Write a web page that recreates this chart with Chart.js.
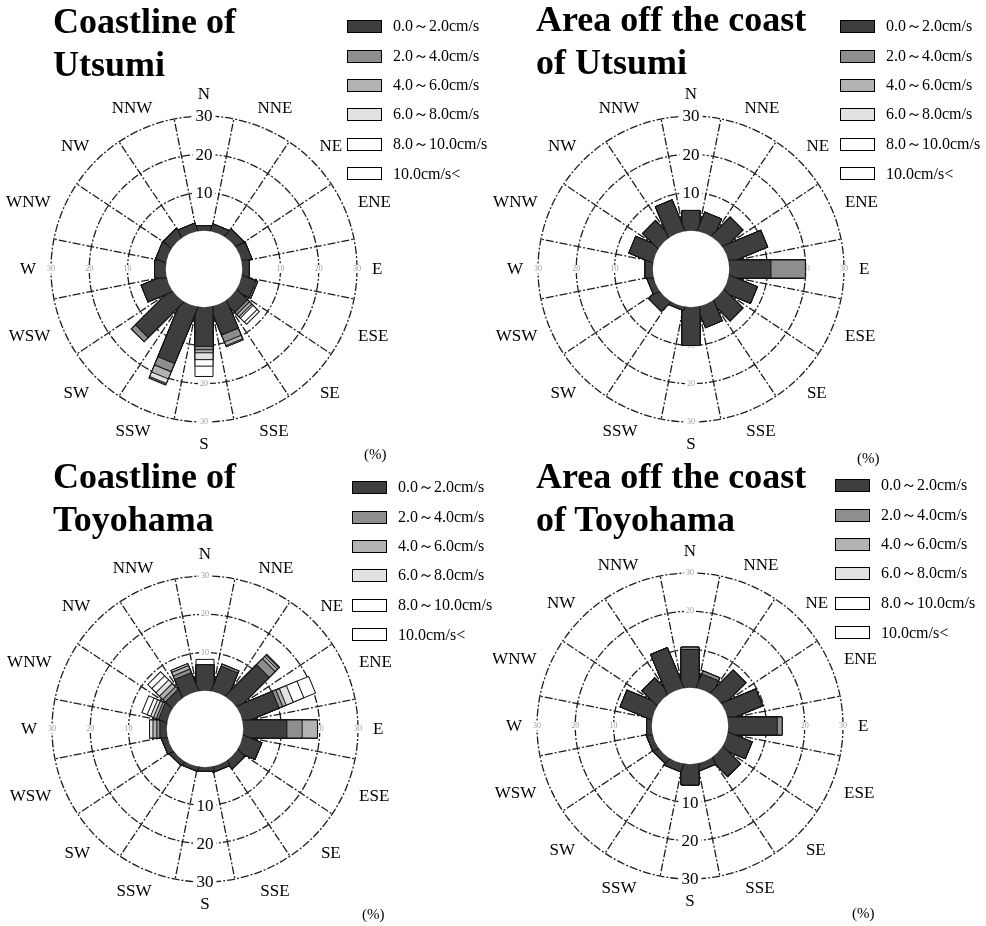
<!DOCTYPE html>
<html>
<head>
<meta charset="utf-8">
<script src="https://cdn.jsdelivr.net/npm/chart.js@4.4.1/dist/chart.umd.min.js"></script>
<style>
  body { margin: 0; width: 986px; height: 926px; background: #fff; overflow: hidden;
         font-family: "Liberation Serif", "Times New Roman", serif; color: #000; }
  .panel { position: absolute; width: 493px; height: 463px; }
  .panel canvas { position: absolute; left: 0; top: 0; }
  .title { position: absolute; font-weight: bold; font-size: 36px; line-height: 43px; white-space: nowrap; }
  .legend { position: absolute; font-size: 16px; }
  .legend .row { height: 29.4px; display: flex; align-items: center; white-space: nowrap; }
  .legend .box { width: 33px; height: 11px; border: 1px solid #000; margin-right: 11px; }
  .unit { position: absolute; font-size: 15px; }
</style>
</head>
<body>

<div class="panel" style="left:0;top:0">
  <canvas id="c1" width="493" height="463"></canvas>
  <div class="title" style="left:53px;top:0px">Coastline of<br>Utsumi</div>
  <div class="legend" id="lg1" style="left:347px;top:12px"></div>
  <div class="unit" style="left:364px;top:446px">(%)</div>
</div>
<div class="panel" style="left:493px;top:0">
  <canvas id="c2" width="493" height="463"></canvas>
  <div class="title" style="left:43px;top:-2px">Area off the coast<br>of Utsumi</div>
  <div class="legend" id="lg2" style="left:347px;top:12px"></div>
  <div class="unit" style="left:364px;top:450px">(%)</div>
</div>
<div class="panel" style="left:0;top:463px">
  <canvas id="c3" width="493" height="463"></canvas>
  <div class="title" style="left:53px;top:-8px">Coastline of<br>Toyohama</div>
  <div class="legend" id="lg3" style="left:352px;top:10px"></div>
  <div class="unit" style="left:362px;top:443px">(%)</div>
</div>
<div class="panel" style="left:493px;top:463px">
  <canvas id="c4" width="493" height="463"></canvas>
  <div class="title" style="left:43px;top:-8px">Area off the coast<br>of Toyohama</div>
  <div class="legend" id="lg4" style="left:342px;top:8px"></div>
  <div class="unit" style="left:359px;top:442px">(%)</div>
</div>

<script>
// wind-rose style current frequency (%), 16 directions
const directions = ['N', 'NNE', 'NE', 'ENE', 'E', 'ESE', 'SE', 'SSE', 'S', 'SSW', 'SW', 'WSW', 'W', 'WNW', 'NW', 'NNW'];
const speedClasses = ['0.0～2.0cm/s', '2.0～4.0cm/s', '4.0～6.0cm/s', '6.0～8.0cm/s', '8.0～10.0cm/s', '10.0cm/s<'];
const ringValues = [10, 20, 30];

// one row per speed class, one column per direction
const coastUtsumi = [
  [1.3, 1.8, 2.4, 2.6, 1.8, 3.8, 3.7, 7.7, 10.2, 15.8, 13.0, 6.8, 2.9, 2.7, 2.6, 2.0],
  [0, 0, 0, 0, 0, 0.4, 0.8, 2.0, 0.9, 2.3, 1.5, 0, 0, 0, 0, 0],
  [0, 0, 0, 0, 0, 0, 0.8, 1.0, 0.8, 2.0, 0, 0, 0, 0, 0, 0],
  [0, 0, 0, 0, 0, 0, 0.5, 0.3, 1.8, 1.3, 0, 0, 0, 0, 0, 0],
  [0, 0, 0, 0, 0, 0, 1.5, 0, 1.7, 0.3, 0, 0, 0, 0, 0, 0],
  [0, 0, 0, 0, 0, 0, 0.8, 0, 2.7, 0.2, 0, 0, 0, 0, 0, 0]
];
const offUtsumi = [
  [5.3, 5.1, 6.8, 10.7, 10.9, 7.8, 6.8, 5.6, 10.0, 0.8, 3.3, 1.6, 2.0, 6.6, 5.5, 8.6],
  [0, 0, 0, 0, 9.0, 0, 0, 0, 0, 0, 0, 0, 0, 0, 0, 0],
  [0, 0, 0, 0, 0, 0, 0, 0, 0, 0, 0, 0, 0, 0, 0, 0],
  [0, 0, 0, 0, 0, 0, 0, 0, 0, 0, 0, 0, 0, 0, 0, 0],
  [0, 0, 0, 0, 0, 0, 0, 0, 0, 0, 0, 0, 0, 0, 0, 0],
  [0, 0, 0, 0, 0, 0, 0, 0, 0, 0, 0, 0, 0, 0, 0, 0]
];
const coastToyohama = [
  [6.8, 6.8, 11.4, 10.0, 11.4, 5.1, 2.4, 1.3, 1.0, 1.0, 1.2, 1.5, 1.8, 2.2, 2.3, 5.0],
  [0, 0.6, 2.2, 1.0, 4.0, 0, 0, 0, 0, 0, 0, 0, 0.8, 0.6, 1.0, 1.0],
  [0, 0, 0.8, 1.0, 4.0, 0, 0, 0, 0, 0, 0, 0, 1.0, 0.8, 1.2, 1.0],
  [0, 0, 0.5, 2.0, 0, 0, 0, 0, 0, 0, 0, 0, 0.9, 0.8, 1.3, 0.5],
  [0, 0, 0.3, 3.0, 0, 0, 0, 0, 0, 0, 0, 0, 0, 1.0, 1.5, 0],
  [1.4, 0, 0, 3.3, 0, 0, 0, 0, 0, 0, 0, 0, 0, 1.5, 1.5, 0]
];
const offToyohama = [
  [10.0, 3.8, 8.3, 9.6, 12.8, 6.6, 6.3, 1.8, 5.4, 2.0, 1.5, 1.5, 1.3, 8.8, 5.4, 11.2],
  [0.6, 0.8, 0, 0, 1.3, 0, 0, 0, 0, 0, 0, 0, 0, 0, 0, 0],
  [0, 0, 0, 0, 0, 0, 0, 0, 0, 0, 0, 0, 0, 0, 0, 0],
  [0, 0, 0, 0, 0, 0, 0, 0, 0, 0, 0, 0, 0, 0, 0, 0],
  [0, 0, 0, 0, 0, 0, 0, 0, 0, 0, 0, 0, 0, 0, 0, 0],
  [0, 0, 0, 0, 0, 0, 0, 0, 0, 0, 0, 0, 0, 0, 0, 0]
];

const classColors = ['#3e3e3e', '#8e8e8e', '#b3b3b3', '#e2e2e2', '#ffffff', '#ffffff'];
const barWidth = 18;

// running totals so each class sits on top of the slower ones
function stack(rows) {
  let run = directions.map(() => 0);
  return rows.map(row => {
    run = run.map((v, i) => +(v + row[i]).toFixed(2));
    return run;
  });
}

// draw each polar element as a straight bar starting at the edge of the hollow centre
const roseBars = {
  id: 'roseBars',
  afterDatasetsUpdate(chart) {
    const scale = chart.scales.r;
    chart.data.datasets.forEach((ds, i) => {
      chart.getDatasetMeta(i).data.forEach(arc => {
        arc.draw = function (ctx) {
          const r0 = scale.getDistanceFromCenterForValue(0);
          if (this.outerRadius <= r0 + 0.3) return;
          const mid = (this.startAngle + this.endAngle) / 2;
          ctx.save();
          ctx.translate(this.x, this.y);
          ctx.rotate(mid);
          ctx.fillStyle = this.options.backgroundColor;
          ctx.strokeStyle = this.options.borderColor;
          ctx.lineWidth = this.options.borderWidth;
          ctx.beginPath();
          ctx.rect(r0 - 5, -barWidth / 2, this.outerRadius - r0 + 5, barWidth);
          ctx.fill();
          ctx.stroke();
          ctx.restore();
        };
      });
    });
  },
  beforeDatasetsDraw(chart) {
    // faint ring values on the other axes, under the bars
    const scale = chart.scales.r;
    const ctx = chart.ctx;
    const tickIndex = chart.options.plugins.roseLabels.tickIndex;
    ctx.save();
    ctx.textAlign = 'center';
    ctx.textBaseline = 'middle';
    ctx.font = '8px "Liberation Serif", serif';
    [4.5, 12.5, tickIndex + 8].forEach(idx => {
      ringValues.forEach(v => {
        const p = scale.getPointPosition(idx, scale.getDistanceFromCenterForValue(v));
        ctx.fillStyle = '#fff';
        ctx.fillRect(p.x - 6, p.y - 4, 12, 8);
        ctx.fillStyle = '#9a9a9a';
        ctx.fillText(String(v), p.x, p.y);
      });
    });
    ctx.restore();
  },
  afterDatasetsDraw(chart) {
    const scale = chart.scales.r;
    const ctx = chart.ctx;
    ctx.save();
    ctx.fillStyle = '#fff';
    ctx.beginPath();
    ctx.arc(scale.xCenter, scale.yCenter, scale.getDistanceFromCenterForValue(0), 0, Math.PI * 2);
    ctx.fill();
    ctx.restore();
  }
};

const roseLabels = {
  id: 'roseLabels',
  afterDraw(chart, args, opts) {
    const scale = chart.scales.r;
    const ctx = chart.ctx;
    const R = scale.drawingArea;
    ctx.save();
    ctx.textAlign = 'center';
    ctx.textBaseline = 'middle';

    // direction names
    ctx.font = '17px "Liberation Serif", serif';
    ctx.fillStyle = '#000';
    directions.forEach((d, i) => {
      const p = scale.getPointPosition(i + 0.5, R + 15);
      const w = ctx.measureText(d).width;
      ctx.fillText(d, p.x + Math.cos(p.angle) * w / 2, p.y + Math.sin(p.angle) * 7 + 1);
    });

    // ring values
    ringValues.forEach(v => {
      const p = scale.getPointPosition(opts.tickIndex, scale.getDistanceFromCenterForValue(v));
      const w = ctx.measureText(String(v)).width;
      ctx.fillStyle = '#fff';
      ctx.fillRect(p.x - w / 2 - 3, p.y - 7, w + 6, 14);
      ctx.fillStyle = '#000';
      ctx.fillText(String(v), p.x, p.y + 1);
    });
    ctx.restore();
  }
};

function roseInit(id, rows, tickIndex, padding) {
  const ctx = document.getElementById(id).getContext('2d');
  const totals = stack(rows);
  return new Chart(ctx, {
    type: 'polarArea',
    data: {
      labels: directions,
      datasets: speedClasses.map((label, k) => ({
        label: label,
        data: totals[k],
        backgroundColor: classColors[k],
        borderColor: '#111',
        borderWidth: 1
      }))
    },
    options: {
      responsive: false,
      animation: false,
      events: [],
      layout: { padding: padding },
      plugins: {
        legend: { display: false },
        tooltip: { enabled: false },
        roseLabels: { tickIndex: tickIndex }
      },
      scales: {
        r: {
          min: -10,
          max: 30,
          startAngle: -11.25,
          afterBuildTicks: axis => { axis.ticks = ringValues.map(v => ({ value: v })); },
          ticks: { display: false },
          grid: { color: '#1e1e1e', lineWidth: 1.3, circular: true },
          border: { dash: [8, 2, 2, 2] },
          angleLines: { display: true, color: '#1e1e1e', lineWidth: 1.3, borderDash: [8, 2, 2, 2] },
          pointLabels: { display: false }
        }
      }
    },
    plugins: [roseBars, roseLabels]
  });
}

function legendInit(id) {
  const el = document.getElementById(id);
  speedClasses.forEach((label, k) => {
    const row = document.createElement('div');
    row.className = 'row';
    const box = document.createElement('div');
    box.className = 'box';
    box.style.background = classColors[k];
    const txt = document.createElement('span');
    txt.textContent = label;
    row.appendChild(box);
    row.appendChild(txt);
    el.appendChild(row);
  });
}

roseInit('c1', coastUtsumi, 0.5, { left: 51, right: 136, top: 116, bottom: 41 });
roseInit('c2', offUtsumi, 0.5, { left: 45, right: 142, top: 116, bottom: 41 });
roseInit('c3', coastToyohama, 8.5, { left: 52, right: 135, top: 113, bottom: 44 });
roseInit('c4', offToyohama, 8.5, { left: 44, right: 143, top: 110, bottom: 47 });
['lg1', 'lg2', 'lg3', 'lg4'].forEach(legendInit);
</script>
</body>
</html>
